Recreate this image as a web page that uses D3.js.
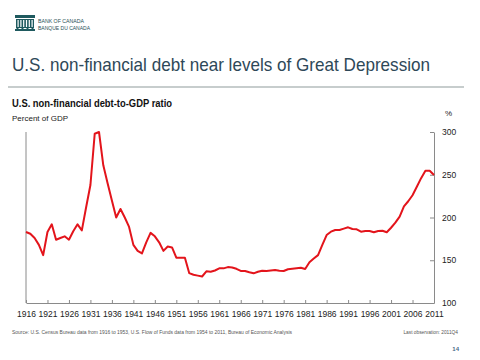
<!DOCTYPE html>
<html>
<head>
<meta charset="utf-8">
<script src="https://cdn.jsdelivr.net/npm/d3@7"></script>
<style>
  body { margin: 0; background: #fff; }
  svg { display: block; font-family: "Liberation Sans", Arial, sans-serif; }
</style>
</head>
<body>
<svg id="chart" width="480" height="360"></svg>
<script>
// data (annual, 1916-2011)
const years = d3.range(1916, 2012);
const ratio = [
  183, 181, 176, 168, 156, 183, 192, 174, 176, 178,   // 1916-1925
  174, 184, 192, 185, 212, 238, 298, 300, 261, 240,   // 1926-1935
  220, 200, 210, 200, 189, 168, 161, 158, 171, 182,   // 1936-1945
  178, 171, 161, 166, 165, 153, 153, 153, 135, 133,   // 1946-1955
  132, 131, 137, 136.5, 138, 140.5, 140.5, 142, 141.5, 140, // 1956-1965
  137.5, 137.5, 136, 134.7, 136.5, 137.8, 137.4, 138, 138.6, 137.8, // 1966-1975
  137.4, 139.5, 140, 140.6, 141.3, 139.8, 147.6, 152, 156, 168, // 1976-1985
  179.5, 183.4, 185.4, 185.4, 187, 188.5, 186.5, 186.2, 183.4, 184.2, // 1986-1995
  184.2, 182.7, 184.2, 184.5, 182.7, 188, 194, 201, 213, 219, // 1996-2005
  226, 236, 246, 254.7, 254.7, 249.7                  // 2006-2011
];
const xTicks = d3.range(1916, 2012, 5);
const yTicks = [100, 150, 200, 250, 300];

const svg = d3.select('#chart');

// header: logo + title
const logo = svg.append('g').attr('transform', 'translate(15,15)');
logo.append('rect').attr('x', 0).attr('y', 0).attr('width', 20).attr('height', 3).attr('fill', '#1f5a5f');
logo.append('rect').attr('x', 1).attr('y', 4).attr('width', 18).attr('height', 9).attr('fill', '#1f5a5f');
for (let i = 0; i < 6; i++) {
  logo.append('rect').attr('x', 2.5 + i * 2.8).attr('y', 5).attr('width', 1.2).attr('height', 7).attr('fill', '#fff');
}
logo.append('rect').attr('x', 0).attr('y', 14).attr('width', 20).attr('height', 2).attr('fill', '#1f5a5f');
for (let i = 0; i < 4; i++) {
  logo.append('rect').attr('x', 1.5 + i * 5).attr('y', 12).attr('width', 2).attr('height', 2).attr('fill', '#1f5a5f');
}
logo.append('text').attr('x', 23).attr('y', 8).attr('font-size', 6.2).attr('fill', '#1f4f55')
  .attr('textLength', 46).attr('lengthAdjust', 'spacingAndGlyphs').text('BANK OF CANADA');
logo.append('text').attr('x', 23).attr('y', 15).attr('font-size', 6.2).attr('fill', '#1f4f55')
  .attr('textLength', 52).attr('lengthAdjust', 'spacingAndGlyphs').text('BANQUE DU CANADA');

svg.append('text').attr('x', 12).attr('y', 71).attr('font-size', 19).attr('fill', '#2e4858')
  .attr('textLength', 418).attr('lengthAdjust', 'spacingAndGlyphs')
  .text('U.S. non-financial debt near levels of Great Depression');

svg.append('line').attr('x1', 8).attr('x2', 464).attr('y1', 87).attr('y2', 87)
  .attr('stroke', '#b4bcbc').attr('stroke-width', 1.5);

// chart titles
svg.append('text').attr('x', 12).attr('y', 107).attr('font-size', 10).attr('font-weight', 'bold')
  .attr('fill', '#111').attr('textLength', 160).attr('lengthAdjust', 'spacingAndGlyphs')
  .text('U.S. non-financial debt-to-GDP ratio');
svg.append('text').attr('x', 12).attr('y', 121).attr('font-size', 8).attr('fill', '#222')
  .text('Percent of GDP');
svg.append('text').attr('x', 445).attr('y', 116).attr('font-size', 8).attr('fill', '#222').text('%');

// scales
const x = d3.scaleLinear().domain([1916, 2011]).range([26, 434]);
const y = d3.scaleLinear().domain([100, 300]).range([303, 132]);

// axes
const xAxis = svg.append('g').attr('transform', 'translate(0,303)')
  .call(d3.axisBottom(x).tickValues(xTicks).tickFormat(d3.format('d')).tickSizeInner(-3).tickSizeOuter(0).tickPadding(8));
const yAxis = svg.append('g').attr('transform', 'translate(434,0)')
  .call(d3.axisRight(y).tickValues(yTicks).tickSizeInner(-4).tickSizeOuter(0).tickPadding(8));
for (const ax of [xAxis, yAxis]) {
  ax.select('.domain').attr('stroke', '#8a8a8a');
  ax.selectAll('.tick line').attr('stroke', '#8a8a8a');
  ax.selectAll('.tick text').attr('fill', '#222').attr('font-size', 8.5)
    .attr('font-family', '"Liberation Sans", Arial, sans-serif');
}
// left frame line
svg.append('line').attr('x1', 26).attr('x2', 26).attr('y1', y(300)).attr('y2', y(100))
  .attr('stroke', '#8a8a8a');

// the series
const line = d3.line().x((d, i) => x(years[i])).y(d => y(d));
svg.append('path').datum(ratio).attr('d', line)
  .attr('fill', 'none').attr('stroke', '#e3141b').attr('stroke-width', 2).attr('stroke-linejoin', 'round');

// footer
svg.append('text').attr('x', 12).attr('y', 334).attr('font-size', 4.8).attr('fill', '#555')
  .attr('textLength', 280).attr('lengthAdjust', 'spacingAndGlyphs')
  .text('Source: U.S. Census Bureau data from 1916 to 1953, U.S. Flow of Funds data from 1954 to 2011, Bureau of Economic Analysis');
svg.append('text').attr('x', 458).attr('y', 334).attr('font-size', 4.8).attr('fill', '#555')
  .attr('text-anchor', 'end').text('Last observation: 2011Q4');
svg.append('text').attr('x', 459).attr('y', 351).attr('font-size', 6).attr('font-weight', 'bold')
  .attr('fill', '#4a6a8a').attr('text-anchor', 'end').text('14');
</script>
</body>
</html>
